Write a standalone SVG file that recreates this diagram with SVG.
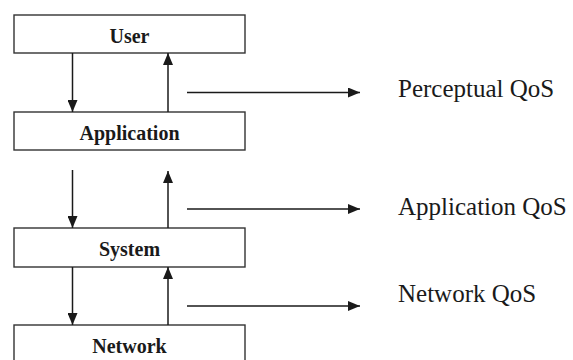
<svg xmlns="http://www.w3.org/2000/svg" width="573" height="360" viewBox="0 0 573 360">
  <style>
    .box { fill: #fff; stroke: #333; stroke-width: 1.4; }
    .name { font-family: "Liberation Serif", serif; font-weight: bold; font-size: 20px; fill: #1a1a1a; text-anchor: middle; }
    .qos { font-family: "Liberation Serif", serif; font-size: 25px; fill: #1a1a1a; }
    .link { stroke: #1a1a1a; stroke-width: 1.5; fill: none; marker-end: url(#head); }
  </style>
  <defs>
    <marker id="head" viewBox="0 0 12 10" refX="12" refY="5" markerWidth="12" markerHeight="10" markerUnits="userSpaceOnUse" orient="auto">
      <path d="M0,0 L12,5 L0,10 Z" fill="#1a1a1a"/>
    </marker>
  </defs>
  <rect width="573" height="360" fill="#fff"/>

  <g id="user">
    <rect class="box" x="14" y="15" width="231" height="38"/>
    <text class="name" x="129.5" y="43">User</text>
  </g>
  <g id="application">
    <rect class="box" x="14" y="112" width="231" height="38"/>
    <text class="name" x="129.5" y="140">Application</text>
  </g>
  <g id="system">
    <rect class="box" x="14" y="228" width="231" height="39"/>
    <text class="name" x="129.5" y="256">System</text>
  </g>
  <g id="network">
    <rect class="box" x="14" y="325" width="231" height="45"/>
    <text class="name" x="129.5" y="353">Network</text>
  </g>

  <g id="perceptual-qos">
    <text class="qos" x="398" y="97">Perceptual QoS</text>
  </g>
  <g id="application-qos">
    <text class="qos" x="398" y="215">Application QoS</text>
  </g>
  <g id="network-qos">
    <text class="qos" x="398" y="302">Network QoS</text>
  </g>

  <g id="connectors">
    <!-- User / Application -->
    <line class="link" x1="72.5" y1="53" x2="72.5" y2="112"/>
    <line class="link" x1="168" y1="112" x2="168" y2="53"/>
    <line class="link" x1="187" y1="92.5" x2="360" y2="92.5"/>
    <!-- Application / System -->
    <line class="link" x1="72.5" y1="170" x2="72.5" y2="228"/>
    <line class="link" x1="168" y1="228" x2="168" y2="171"/>
    <line class="link" x1="187" y1="209" x2="360" y2="209"/>
    <!-- System / Network -->
    <line class="link" x1="72.5" y1="267" x2="72.5" y2="325"/>
    <line class="link" x1="168" y1="325" x2="168" y2="267"/>
    <line class="link" x1="187" y1="306" x2="360" y2="306"/>
  </g>
</svg>
